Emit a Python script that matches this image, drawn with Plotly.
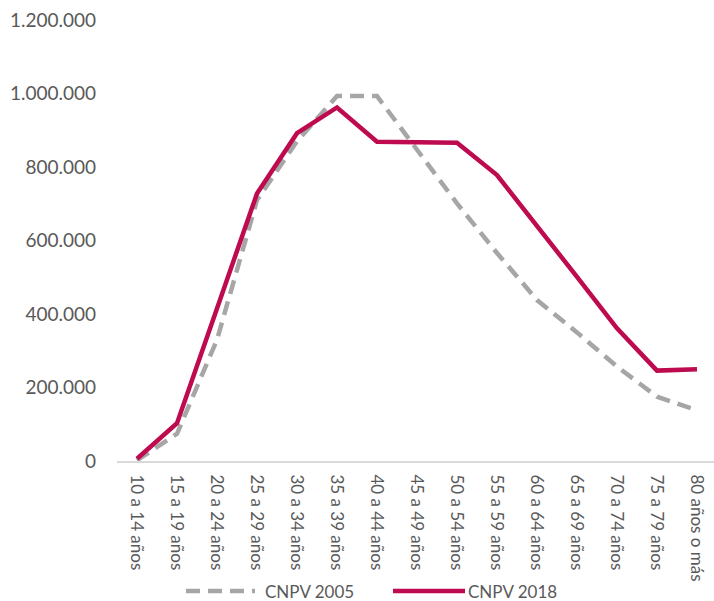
import plotly.graph_objects as go

categories = ["10 a 14 años", "15 a 19 años", "20 a 24 años", "25 a 29 años",
              "30 a 34 años", "35 a 39 años", "40 a 44 años", "45 a 49 años",
              "50 a 54 años", "55 a 59 años", "60 a 64 años", "65 a 69 años",
              "70 a 74 años", "75 a 79 años", "80 años o más"]
cnpv_2005 = [2000, 74000, 330000, 710000, 870000, 993000, 993000, 848000,
             701000, 566000, 438000, 350000, 257000, 175000, 138000]
cnpv_2018 = [6000, 103000, 415000, 728000, 892000, 962000, 869000, 868000,
             866000, 778000, 637000, 501000, 361000, 246000, 250000]
y_ticks = [0, 200000, 400000, 600000, 800000, 1000000, 1200000]

GRAY = "#A6A6A6"
RED = "#BE0A4E"
FONT = "Lato"
TXT = "#595959"

W, H = 714, 601
L, R, T, B = 117, 0, 20, 140
pw, ph = W - L - R, H - T - B

fig = go.Figure()
fig.add_trace(go.Scatter(x=categories, y=cnpv_2005, mode="lines", name="CNPV 2005",
                         line=dict(color=GRAY, width=4.5, dash="14px,8px")))
fig.add_trace(go.Scatter(x=categories, y=cnpv_2018, mode="lines", name="CNPV 2018",
                         line=dict(color=RED, width=4.5)))

def px_x(p):
    return (p - L) / pw

def px_y(p):
    return (H - B - p) / ph

ly = px_y(591)
fig.add_shape(type="line", xref="paper", yref="paper", x0=px_x(186), x1=px_x(255),
              y0=ly, y1=ly, line=dict(color=GRAY, width=4.5, dash="14px,8px"))
fig.add_shape(type="line", xref="paper", yref="paper", x0=px_x(393), x1=px_x(465),
              y0=ly, y1=ly, line=dict(color=RED, width=4.5))
fig.add_annotation(text="CNPV 2005", xref="paper", yref="paper", x=px_x(264), y=ly,
                   xanchor="left", yanchor="middle", showarrow=False, borderpad=0,
                   font=dict(family=FONT, size=17, color=TXT))
fig.add_annotation(text="CNPV 2018", xref="paper", yref="paper", x=px_x(467), y=ly,
                   xanchor="left", yanchor="middle", showarrow=False, borderpad=0,
                   font=dict(family=FONT, size=17, color=TXT))

fig.update_layout(
    width=W, height=H,
    margin=dict(l=L, r=R, t=T, b=B),
    plot_bgcolor="white", paper_bgcolor="white",
    separators=",.",
    showlegend=False,
    font=dict(family=FONT, color=TXT),
    xaxis=dict(type="category", range=[-0.5, 14.425], showgrid=False,
               automargin=False,
               showline=True, linecolor="#D9D9D9", linewidth=2,
               ticks="", tickangle=90, ticklabelstandoff=8,
               tickfont=dict(family=FONT, size=17, color=TXT)),
    yaxis=dict(range=[0, 1200000], tickvals=y_ticks, tickformat=",d",
               automargin=False,
               showgrid=False, zeroline=False, showline=False, ticks="",
               ticklabelstandoff=20,
               tickfont=dict(family=FONT, size=19, color=TXT)),
)

fig.write_html("out.html", config={"displayModeBar": False},
               post_script="document.body.style.margin='0';")
